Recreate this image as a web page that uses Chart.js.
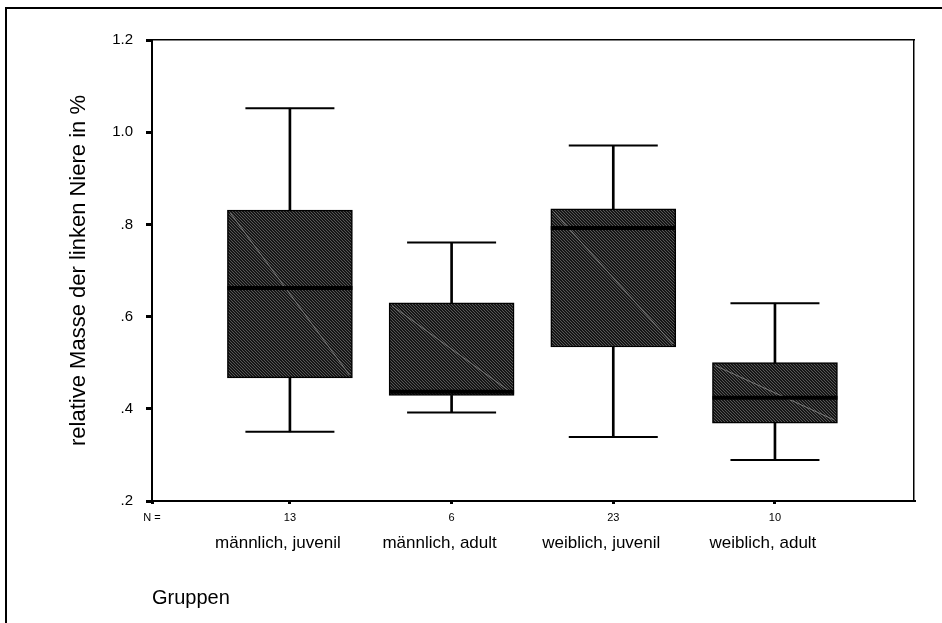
<!DOCTYPE html>
<html>
<head>
<meta charset="utf-8">
<script src="https://cdn.jsdelivr.net/npm/chart.js@4/dist/chart.umd.min.js"></script>
<style>
  html, body { margin: 0; padding: 0; background: #fff; width: 942px; height: 623px; overflow: hidden; }
  #frame { position: absolute; left: 5px; top: 7px; width: 1000px; height: 700px; border: 2px solid #000; box-sizing: border-box; }
  #wrap { position: absolute; left: 0; top: 0; width: 942px; height: 623px; }
</style>
</head>
<body>
<div id="frame"></div>
<div id="wrap"><canvas id="c" width="942" height="623"></canvas></div>
<script>
// ---- data ----
const categories = ['männlich, juvenil', 'männlich, adult', 'weiblich, juvenil', 'weiblich, adult'];
const nCounts = [13, 6, 23, 10];
const whiskerLow = [0.350, 0.392, 0.339, 0.289];
const q1 = [0.467, 0.429, 0.534, 0.369];
const median = [0.662, 0.437, 0.792, 0.424];
const q3 = [0.831, 0.630, 0.834, 0.500];
const whiskerHigh = [1.052, 0.761, 0.971, 0.629];
const yTickValues = [0.2, 0.4, 0.6, 0.8, 1.0, 1.2];
const yTickLabels = ['.2', '.4', '.6', '.8', '1.0', '1.2'];
const yTitle = 'relative Masse der linken Niere in %';
const xTitle = 'Gruppen';
const nLabel = 'N =';

// ---- layout / style ----
const FONT = "'Liberation Sans', Arial, sans-serif";
const X_MIN = 0.147, X_MAX = 4.86;
const canvas = document.getElementById('c');
const mainCtx = canvas.getContext('2d');

function makeHatch() {
  const t = document.createElement('canvas');
  t.width = 3; t.height = 3;
  const g = t.getContext('2d');
  g.fillStyle = '#161616';
  g.fillRect(0, 0, 3, 3);
  g.fillStyle = '#565656';
  for (let i = 0; i < 3; i++) g.fillRect(i, i, 1, 1);
  return mainCtx.createPattern(t, 'repeat');
}
const hatch = makeHatch();

const boxDiagonal = {
  id: 'boxDiagonal',
  afterDatasetDraw(chart, args) {
    if (args.index !== 0) return;
    const ctx = chart.ctx;
    ctx.save();
    ctx.strokeStyle = 'rgba(135,135,135,0.85)';
    ctx.lineWidth = 1;
    args.meta.data.forEach(bar => {
      const p = bar.getProps(['x', 'y', 'base', 'width'], true);
      const l = p.x - p.width / 2 + 3, r = p.x + p.width / 2 - 3;
      const top = Math.min(p.y, p.base) + 3, bot = Math.max(p.y, p.base) - 3;
      ctx.beginPath();
      ctx.moveTo(l, top);
      ctx.lineTo(r, bot);
      ctx.stroke();
    });
    ctx.restore();
  }
};

const xs = categories.map((c, i) => i + 1);

new Chart(canvas, {
  type: 'bar',
  data: {
    datasets: [
      {
        type: 'bar', label: 'box',
        data: xs.map((x, i) => ({ x, y: [q1[i], q3[i]] })),
        backgroundColor: hatch, borderColor: '#000', borderWidth: 1.5, borderSkipped: false,
        barThickness: 125, grouped: false, order: 4, xAxisID: 'x', yAxisID: 'y'
      },
      {
        type: 'bar', label: 'lower whisker',
        data: xs.map((x, i) => ({ x, y: [whiskerLow[i], q1[i]] })),
        backgroundColor: '#000', borderWidth: 0, barThickness: 2, grouped: false, order: 3,
        xAxisID: 'x', yAxisID: 'y'
      },
      {
        type: 'bar', label: 'upper whisker',
        data: xs.map((x, i) => ({ x, y: [q3[i], whiskerHigh[i]] })),
        backgroundColor: '#000', borderWidth: 0, barThickness: 2, grouped: false, order: 3,
        xAxisID: 'x', yAxisID: 'y'
      },
      {
        type: 'scatter', label: 'caps',
        data: xs.map((x, i) => ({ x, y: whiskerLow[i] })).concat(xs.map((x, i) => ({ x, y: whiskerHigh[i] }))),
        pointStyle: 'line', pointRadius: 44.5, pointBorderColor: '#000', borderColor: '#000',
        pointBorderWidth: 2, borderWidth: 2, order: 1, xAxisID: 'x', yAxisID: 'y'
      },
      {
        type: 'scatter', label: 'median',
        data: xs.map((x, i) => ({ x, y: median[i] })),
        pointStyle: 'line', pointRadius: 62.5, pointBorderColor: '#000', borderColor: '#000',
        pointBorderWidth: 4, borderWidth: 4, order: 0, xAxisID: 'x', yAxisID: 'y'
      }
    ]
  },
  options: {
    responsive: false,
    animation: false,
    events: [],
    layout: { autoPadding: false, padding: { top: 40, right: 28, bottom: 0, left: 0 } },
    plugins: { legend: { display: false }, tooltip: { enabled: false } },
    scales: {
      x: {
        type: 'linear', position: 'bottom', min: X_MIN, max: X_MAX, weight: 0, offset: false,
        afterBuildTicks: s => { s.ticks = [{ value: X_MIN }].concat(xs.map(v => ({ value: v }))); },
        afterFit: s => { s.height = 29; },
        grid: { display: true, offset: false, drawOnChartArea: false, drawTicks: true, tickLength: 3, color: '#000', lineWidth: 3 },
        border: { display: true, color: '#000', width: 2 },
        ticks: {
          padding: 7, autoSkip: false, maxRotation: 0, color: '#000',
          font: { family: FONT, size: 11 },
          callback: (v, i) => i === 0 ? nLabel : String(nCounts[i - 1])
        }
      },
      x2: {
        type: 'linear', position: 'bottom', min: X_MIN, max: X_MAX, weight: 1, offset: false,
        afterBuildTicks: s => { s.ticks = xs.map(v => ({ value: v })); },
        afterFit: s => { s.height = 93; },
        grid: { display: false, offset: false, drawTicks: false },
        border: { display: false },
        ticks: {
          padding: 3, labelOffset: -12, autoSkip: false, maxRotation: 0, color: '#000',
          font: { family: FONT, size: 17 },
          callback: (v, i) => categories[i]
        },
        title: {
          display: true, text: xTitle, align: 'start', color: '#000',
          font: { family: FONT, size: 20 }, padding: { top: 29, bottom: 13 }
        }
      },
      xTop: {
        type: 'linear', position: 'top', min: X_MIN, max: X_MAX, offset: false,
        afterFit: s => { s.height = 0; },
        grid: { display: false, offset: false, drawTicks: false },
        ticks: { display: false },
        border: { display: true, color: '#000', width: 1.5 }
      },
      y: {
        type: 'linear', position: 'left', min: 0.2, max: 1.2,
        afterBuildTicks: s => { s.ticks = yTickValues.map(v => ({ value: v })); },
        afterFit: s => { s.width = 152; },
        grid: { display: true, drawOnChartArea: false, drawTicks: true, tickLength: 6, color: '#000', lineWidth: 3 },
        border: { display: true, color: '#000', width: 2 },
        ticks: {
          padding: 13, color: '#000', font: { family: FONT, size: 15 },
          callback: (v, i) => yTickLabels[i]
        },
        title: {
          display: true, text: yTitle, color: '#000',
          font: { family: FONT, size: 22 }, padding: { top: 66, bottom: 0 }
        }
      },
      yRight: {
        type: 'linear', position: 'right', min: 0.2, max: 1.2,
        afterFit: s => { s.width = 0; },
        grid: { display: false, drawTicks: false },
        ticks: { display: false },
        border: { display: true, color: '#000', width: 1.5 }
      }
    }
  },
  plugins: [boxDiagonal]
});
</script>
</body>
</html>
